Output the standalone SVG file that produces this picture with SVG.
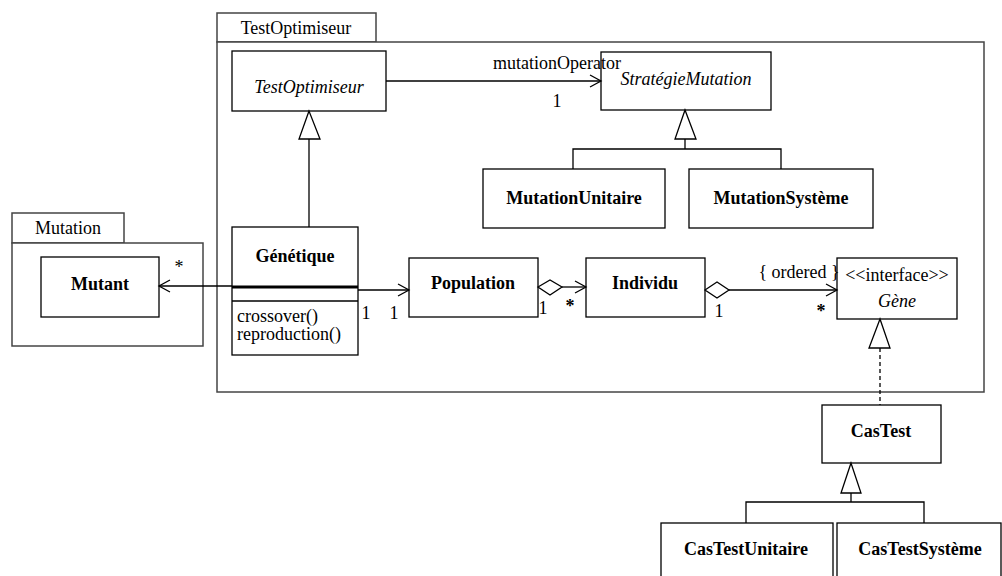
<svg xmlns="http://www.w3.org/2000/svg" width="1002" height="576" viewBox="0 0 1002 576" font-family="'Liberation Serif', Tinos, 'Times New Roman', 'DejaVu Serif', serif">
<style>
text{font-family:'Liberation Serif',Tinos,'Times New Roman','DejaVu Serif',serif;font-size:18px;fill:#000;dominant-baseline:central}
.c{text-anchor:middle}
.b{font-weight:bold}
.i{font-style:italic}
.box{fill:#fff;stroke:#000;stroke-width:1.3}
.pkg{fill:#fff;stroke:#444;stroke-width:1.5}
.ln{fill:none;stroke:#000;stroke-width:1.3}
.tri{fill:#fff;stroke:#000;stroke-width:1.3}
</style>
<defs>
<marker id="open" markerWidth="14" markerHeight="14" refX="12" refY="7" orient="auto" markerUnits="userSpaceOnUse">
<path d="M1,1 L12,7 L1,13" fill="none" stroke="#000" stroke-width="1.3"/>
</marker>
</defs>
<rect width="1002" height="576" fill="#fff"/>

<g id="pkg-testoptimiseur">
<rect class="pkg" x="217" y="13" width="159" height="29"/>
<rect class="pkg" x="217" y="42" width="767" height="350"/>
<text class="c" x="296" y="28">TestOptimiseur</text>
</g>
<g id="pkg-mutation">
<rect class="pkg" x="12" y="213" width="112" height="30"/>
<rect class="pkg" x="12" y="243" width="191" height="103"/>
<text class="c" x="68" y="228">Mutation</text>
</g>

<g id="node-testoptimiseur">
<rect class="box" x="232" y="51" width="154" height="60"/>
<text class="c i" x="309" y="87">TestOptimiseur</text>
</g>
<g id="node-strategiemutation">
<rect class="box" x="601" y="52" width="170" height="58"/>
<text class="c i" x="686" y="79">StratégieMutation</text>
</g>
<g id="node-mutationunitaire">
<rect class="box" x="483" y="169" width="182" height="59"/>
<text class="c b" x="574" y="198">MutationUnitaire</text>
</g>
<g id="node-mutationsysteme">
<rect class="box" x="689" y="169" width="184" height="59"/>
<text class="c b" x="781" y="198">MutationSystème</text>
</g>
<g id="node-mutant">
<rect class="box" x="41" y="257" width="118" height="60"/>
<text class="c b" x="100" y="284">Mutant</text>
</g>
<g id="node-genetique">
<rect class="box" x="232" y="227" width="126" height="128"/>
<line x1="232" y1="287" x2="358" y2="287" stroke="#000" stroke-width="3"/>
<line class="ln" x1="232" y1="301" x2="358" y2="301"/>
<text class="c b" x="295" y="256">Génétique</text>
<text x="237" y="316">crossover()</text>
<text x="237" y="334">reproduction()</text>
</g>
<g id="node-population">
<rect class="box" x="409" y="258" width="129" height="59"/>
<text class="c b" x="473" y="283">Population</text>
</g>
<g id="node-individu">
<rect class="box" x="586" y="258" width="119" height="59"/>
<text class="c b" x="645" y="283">Individu</text>
</g>
<g id="node-gene">
<rect class="box" x="837" y="258" width="120" height="61"/>
<text class="c" x="897" y="275">&lt;&lt;interface&gt;&gt;</text>
<text class="c i" x="897" y="301">Gène</text>
</g>
<g id="node-castest">
<rect class="box" x="822" y="405" width="119" height="58"/>
<text class="c b" x="881" y="431">CasTest</text>
</g>
<g id="node-castestunitaire">
<rect class="box" x="661" y="523" width="172" height="80"/>
<text class="c b" x="746" y="549">CasTestUnitaire</text>
</g>
<g id="node-castestsysteme">
<rect class="box" x="837" y="523" width="164" height="80"/>
<text class="c b" x="920" y="549">CasTestSystème</text>
</g>

<g id="connectors">
<line class="ln" x1="386" y1="81" x2="601" y2="81" marker-end="url(#open)"/>
<text x="493" y="63">mutationOperator</text>
<text class="c" x="557" y="101">1</text>
<line class="ln" x1="309" y1="139" x2="309" y2="227"/>
<polygon class="tri" points="309,111 299,139 320,139"/>
<polyline class="ln" points="573,169 573,149 781,149 781,169"/>
<line class="ln" x1="685" y1="139" x2="685" y2="149"/>
<polygon class="tri" points="685,110 675,139 696,139"/>
<line class="ln" x1="232" y1="286" x2="159" y2="286" marker-end="url(#open)"/>
<text class="c" x="179" y="267">*</text>
<line class="ln" x1="358" y1="290" x2="409" y2="290" marker-end="url(#open)"/>
<text class="c" x="366" y="313">1</text>
<text class="c" x="394" y="313">1</text>
<polygon class="tri" points="538,287 550,280 562,287 550,295"/>
<line class="ln" x1="562" y1="287" x2="586" y2="287" marker-end="url(#open)"/>
<text class="c" x="543" y="308">1</text>
<text class="c b" x="570" y="306">*</text>
<polygon class="tri" points="705,290 717,282 729,290 717,298"/>
<line class="ln" x1="729" y1="290" x2="837" y2="290" marker-end="url(#open)"/>
<text class="c" x="799" y="272">{ ordered }</text>
<text class="c" x="719" y="311">1</text>
<text class="c b" x="821" y="311">*</text>
<polygon class="tri" points="880,319 869,348 890,348"/>
<line class="ln" x1="880" y1="348" x2="880" y2="405" stroke-dasharray="4,3"/>
<polygon class="tri" points="851,463 841,493 861,493"/>
<line class="ln" x1="851" y1="493" x2="851" y2="502"/>
<polyline class="ln" points="746,523 746,502 924,502 924,523"/>
</g>
</svg>
